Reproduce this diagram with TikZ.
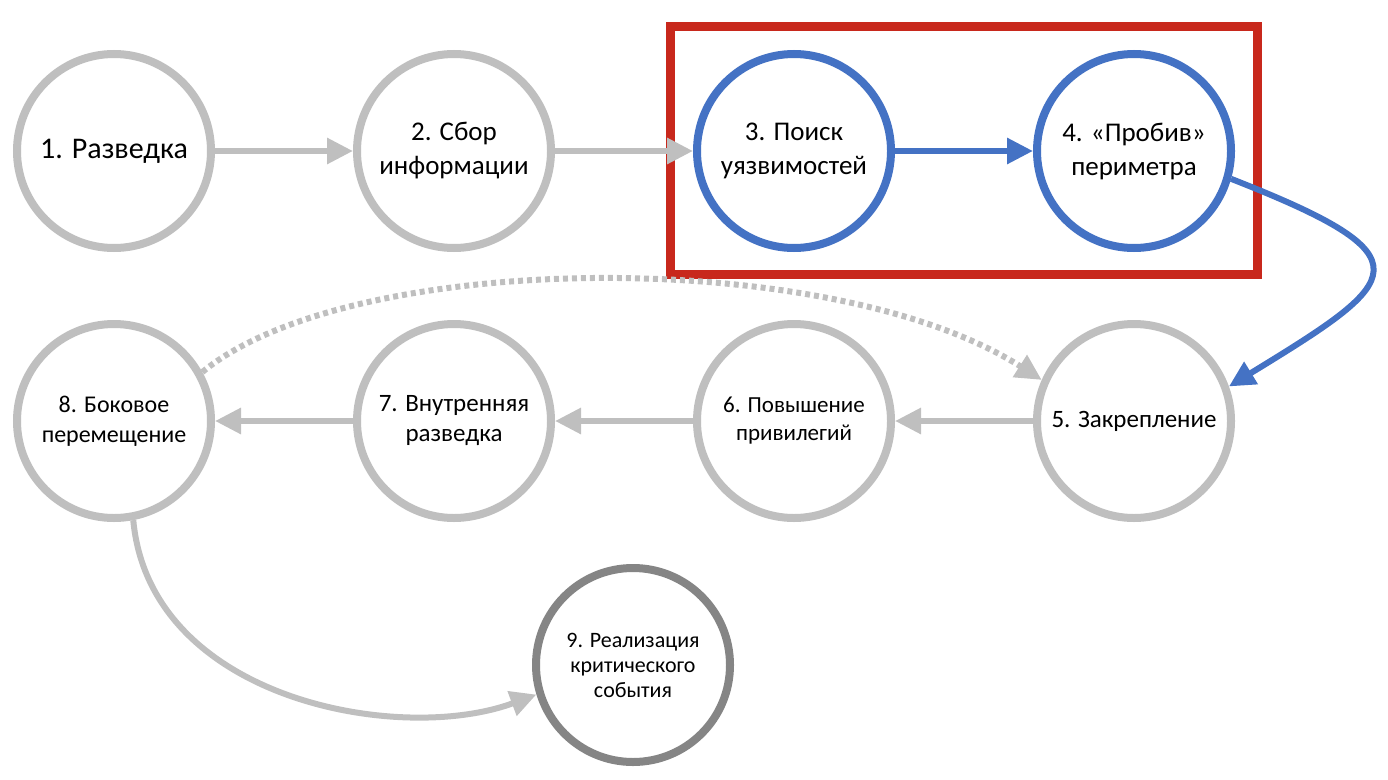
\documentclass[tikz,border=0pt]{standalone}
\usepackage{fontspec}
\setmainfont{Carlito}
\usetikzlibrary{arrows.meta}
\definecolor{stagegray}{HTML}{BFBFBF}
\definecolor{stageblue}{HTML}{4472C4}
\definecolor{stagered}{HTML}{C8281C}
\definecolor{finalgray}{HTML}{858585}
\tikzset{
	stage/.style={circle, draw=stagegray, line width=8pt, fill=white,
		minimum size=194pt, inner sep=0pt, align=center},
	hot/.style={stage, draw=stageblue},
	fsize/.style 2 args={font=\fontsize{#1}{#2}\selectfont},
	flow/.style={draw=stagegray, line width=6pt, -{Triangle[length=26pt,width=25pt]}},
	hotflow/.style={flow, draw=stageblue},
}
\begin{document}
\begin{tikzpicture}[x=1pt,y=-1pt]
	      \useasboundingbox (0,0) rectangle (1388,779);
	      % Highlighted stages
		  \draw[stagered, line width=9pt] (670,26) rectangle (1257,274);
		  % Top row
		  \node[stage, fsize={30}{36}] (s1) at (114,151) {1. Разведка};
		  \node[stage, fsize={27}{34}] (s2) at (454,151) {2. Сбор\\информации};
		  \node[hot, fsize={27}{34}] (s3) at (794,151) {3. Поиск\\уязвимостей};
		  \node[hot, fsize={27}{34}] (s4) at (1134,151) {4. «Пробив»\\периметра};
		  % Bottom row
		  \node[stage, fsize={25}{30}] (s5) at (1134,421) {5. Закрепление};
		  \node[stage, fsize={23}{28}] (s6) at (794,421) {6. Повышение\\привилегий};
		  \node[stage, fsize={25}{30}] (s7) at (454,421) {7. Внутренняя\\разведка};
		  \node[stage, fsize={24}{30}] (s8) at (114,421) {8. Боковое\\перемещение};
		  \node[stage, draw=finalgray, fsize={22}{25}] (s9) at (633,665) {9. Реализация\\критического\\события};
		  % Connectors
		  \draw[flow] (s1) -- (s2);
		  \draw[flow] (s2) -- (s3);
		  \draw[hotflow] (s3) -- (s4);
		  \draw[hotflow] (s4.-16) .. controls (1433,258) and (1403,280) .. (s5.20);
		  \draw[flow] (s5) -- (s6);
		  \draw[flow] (s6) -- (s7);
		  \draw[flow] (s7) -- (s8);
		  \draw[flow, dash pattern=on 5pt off 4pt] (s8.29) .. controls (350,250) and (830,245) .. (s5.156);
		  \draw[flow] (s8.-79) .. controls (150,700) and (400,745) .. (s9.-163);
	    \end{tikzpicture}
\end{document}
